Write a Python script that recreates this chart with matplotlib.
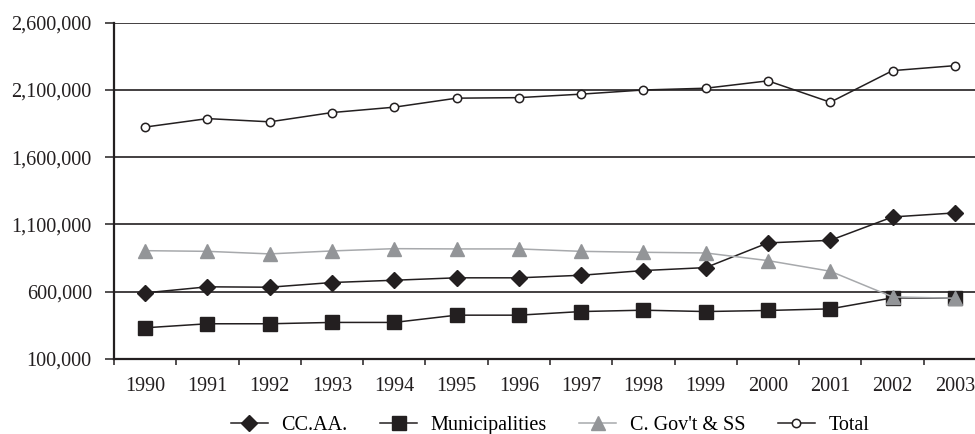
import matplotlib
matplotlib.use("Agg")
import matplotlib.pyplot as plt
from matplotlib.ticker import FuncFormatter, FixedLocator

# data
years = [1990, 1991, 1992, 1993, 1994, 1995, 1996, 1997, 1998, 1999, 2000, 2001, 2002, 2003]
ccaa = [590000, 635000, 632000, 667000, 684000, 702000, 702000, 721000, 756000, 778000,
        962000, 981000, 1155000, 1185000]
municipalities = [330000, 360000, 360000, 370000, 370000, 424000, 424000, 451000, 461000, 451000,
                  459000, 471000, 553000, 550000]
cgov_ss = [904000, 899000, 880000, 902000, 919000, 917000, 917000, 899000, 892000, 887000,
           830000, 751000, 560000, 550000]
total = [1824000, 1887000, 1863000, 1932000, 1972000, 2039000, 2043000, 2069000, 2100000, 2113000,
         2168000, 2009000, 2244000, 2281000]
yticks = [100000, 600000, 1100000, 1600000, 2100000, 2600000]

plt.rcParams['font.family'] = ['Liberation Serif', 'DejaVu Serif']
plt.rcParams['font.size'] = 14.5

black = '#231f20'
grey = '#939598'

fig = plt.figure(figsize=(9.75, 4.34), dpi=100)
ax = fig.add_axes([114 / 975, 75.3 / 434, 872 / 975, 335.9 / 434])

x = list(range(len(years)))
ax.plot(x, ccaa, color=black, lw=1.1, marker='D', ms=8, mfc=black, mec=black, label='CC.AA.', zorder=3)
ax.plot(x, municipalities, color=black, lw=1.1, marker='s', ms=10.5, mfc=black, mec=black,
        label='Municipalities', zorder=3)
ax.plot(x, cgov_ss, color='#a7a9ac', lw=1.1, marker='^', ms=10.5, mfc=grey, mec=grey,
        label="C. Gov't & SS", zorder=4)
ax.plot(x, total, color=black, lw=1.1, marker='o', ms=6, mfc='white', mec=black, mew=1.1,
        label='Total', zorder=3)

ax.set_xlim(-0.5, len(years) - 0.5)
ax.set_ylim(100000, 2600000)
ax.set_yticks(yticks)
ax.yaxis.set_major_formatter(FuncFormatter(lambda v, p: '{:,.0f}'.format(v)))
for v in yticks[1:]:
    ax.axhline(v, color=black, lw=1.2, zorder=1)

ax.set_xticks(x)
ax.set_xticklabels([str(y) for y in years])
ax.xaxis.set_minor_locator(FixedLocator([i - 0.5 for i in range(len(years) + 1)]))
ax.tick_params(axis='x', which='major', length=0, pad=13, colors=black)
ax.tick_params(axis='x', which='minor', length=4.5, width=1.1, color=black)
ax.tick_params(axis='y', length=6.5, width=1.1, pad=9.5, colors=black)

for s in ['top', 'right']:
    ax.spines[s].set_visible(False)
for s in ['left', 'bottom']:
    ax.spines[s].set_linewidth(1.6)
    ax.spines[s].set_color(black)

fig.legend(loc='center', bbox_to_anchor=(550 / 975, 9 / 434), ncol=4, frameon=False,
           handlelength=1.85, handletextpad=0.67, columnspacing=1.6, borderaxespad=0)

fig.savefig('out.png', dpi=100)
